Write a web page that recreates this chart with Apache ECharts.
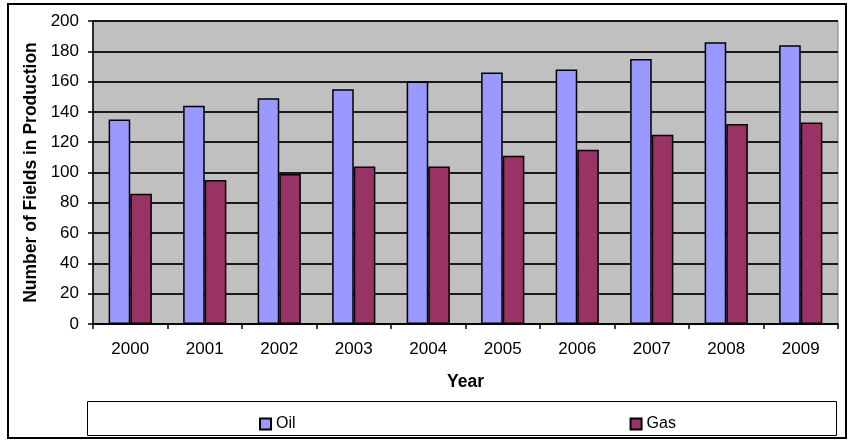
<!DOCTYPE html>
<html>
<head>
<meta charset="utf-8">
<script src="https://cdn.jsdelivr.net/npm/echarts@6/dist/echarts.min.js"></script>
<style>html,body{margin:0;padding:0;background:#fff;}#c{width:853px;height:441px;}</style>
</head>
<body>
<div id="c"></div>
<script>
const years = ['2000','2001','2002','2003','2004','2005','2006','2007','2008','2009'];
const oil = [135, 144, 149, 155, 160, 166, 168, 175, 186, 184];
const gas = [86, 95, 99, 104, 104, 111, 115, 125, 132, 133];
const yTicks = {min: 0, max: 200, interval: 20};

const chart = echarts.init(document.getElementById('c'));
const font = '"Liberation Sans", Arial, sans-serif';
chart.setOption({
  animation: false,
  backgroundColor: '#ffffff',
  graphic: [
    {type: 'rect', shape: {x: 8, y: 4, width: 838, height: 434}, style: {fill: 'none', stroke: '#000', lineWidth: 2}, z: 0},
    {type: 'rect', shape: {x: 87.5, y: 401.5, width: 749, height: 34}, style: {fill: '#fff', stroke: '#000', lineWidth: 1}, z: 0}
  ],
  grid: {left: 93, right: 15, top: 21, bottom: 117, show: true, backgroundColor: '#c0c0c0', borderColor: '#808080', borderWidth: 1},
  legend: {
    data: ['Oil', 'Gas'],
    left: 254, top: 411,
    itemGap: 334,
    itemWidth: 11, itemHeight: 11,
    icon: 'rect',
    textStyle: {fontFamily: font, fontSize: 16, color: '#000'},
    z: 5
  },
  xAxis: {
    type: 'category',
    data: years,
    name: 'Year',
    nameLocation: 'middle',
    nameGap: 49,
    nameTextStyle: {fontFamily: font, fontSize: 17.5, fontWeight: 'bold', color: '#000'},
    axisLine: {lineStyle: {color: '#000', width: 1.5}},
    axisTick: {show: true, length: 5, lineStyle: {color: '#000', width: 1.5}},
    axisLabel: {fontFamily: font, fontSize: 17, color: '#000', margin: 17},
    splitLine: {show: false}
  },
  yAxis: {
    type: 'value',
    min: yTicks.min, max: yTicks.max, interval: yTicks.interval,
    name: 'Number of Fields in Production',
    nameLocation: 'middle',
    nameGap: 53,
    nameTextStyle: {fontFamily: font, fontSize: 17.5, fontWeight: 'bold', color: '#000'},
    axisLine: {show: true, lineStyle: {color: '#000', width: 1.5}},
    axisTick: {show: true, length: 5, lineStyle: {color: '#000', width: 1.5}},
    axisLabel: {fontFamily: font, fontSize: 17, color: '#000', margin: 14},
    splitLine: {show: true, lineStyle: {color: '#1a1a1a', width: 2}}
  },
  series: [
    {name: 'Oil', type: 'bar', data: oil, barGap: '0%', barCategoryGap: '42%',
     itemStyle: {color: '#9999ff', borderColor: '#000', borderWidth: 1.5}},
    {name: 'Gas', type: 'bar', data: gas, barGap: '0%', barCategoryGap: '42%',
     itemStyle: {color: '#993366', borderColor: '#000', borderWidth: 1.5}}
  ]
});
</script>
</body>
</html>
